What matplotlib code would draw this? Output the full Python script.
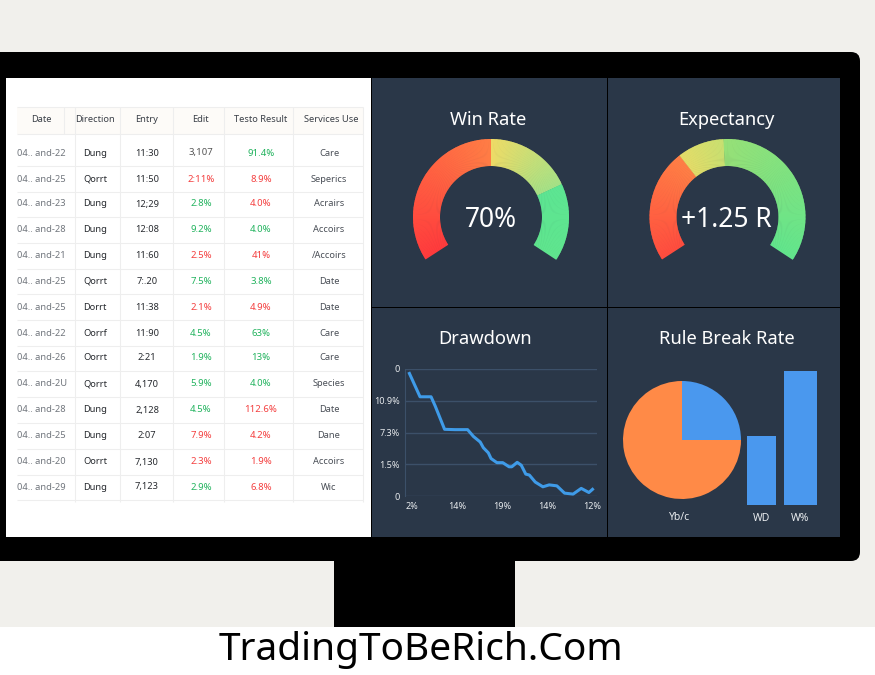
import matplotlib
matplotlib.use("Agg")
import matplotlib.pyplot as plt
from matplotlib.patches import Rectangle, FancyBboxPatch, Wedge
from matplotlib.colors import to_rgb

W, H = 875, 675
plt.rcParams['font.family'] = ['Noto Sans', 'DejaVu Sans']

# ---------- data ----------
headers = ["Date", "Direction", "Entry", "Edit", "Testo Result", "Services Use"]
dates = ["04.. and-22", "04.. and-25", "04.. and-23", "04.. and-28", "04.. and-21", "04.. and-25", "04.. and-25",
         "04.. and-22", "04.. and-26", "04.. and-2U", "04.. and-28", "04.. and-25", "04.. and-20", "04.. and-29"]
directions = ["Dung", "Qorrt", "Dung", "Dung", "Dung", "Qorrt", "Dorrt",
              "Oorrf", "Oorrt", "Qorrt", "Dung", "Dung", "Oorrt", "Dung"]
entries = ["11:30", "11:50", "12;29", "12:08", "11:60", "7:.20", "11:38",
           "11:90", "2:21", "4,170", "2,128", "2:07", "7,130", "7,123"]
edits = ["3,107", "2:11%", "2.8%", "9.2%", "2.5%", "7.5%", "2.1%",
         "4.5%", "1.9%", "5.9%", "4.5%", "7.9%", "2.3%", "2.9%"]
edit_tone = list("nrggrgrgggg" "rrg")
results = ["91.4%", "8.9%", "4.0%", "4.0%", "41%", "3.8%", "4.9%",
           "63%", "13%", "4.0%", "112.6%", "4.2%", "1.9%", "6.8%"]
result_tone = list("grrgrgrgggrrrr")
services = ["Care", "Seperics", "Acrairs", "Accoirs", "/Accoirs", "Date", "Date",
            "Care", "Care", "Species", "Date", "Dane", "Accoirs", "Wic"]

win_label = "70%"
win_angles = [213, 90, 25, -33]
exp_label = "+1.25 R"
exp_angles = [213, 128, 93, -33]

dd_x = [-0.05, .185, .43, .52, .73, .96, 1.24, 1.37, 1.52, 1.59, 1.70, 1.76, 1.89, 2.02, 2.16, 2.22, 2.34, 2.43,
        2.53, 2.61, 2.74, 2.91, 3.05, 3.22, 3.39, 3.58, 3.76, 3.93, 4.01]
dd_y = [3.86, 3.125, 3.125, 2.84, 2.10, 2.09, 2.09, 1.875, 1.70, 1.52, 1.36, 1.18, 1.05, 1.05, .92, .92, 1.06, .97,
        .69, .66, .44, .29, .35, .32, .09, .06, .24, .11, .21]
dd_xticklabels = ["2%", "14%", "19%", "14%", "12%"]
dd_yticklabels = ["0", "1.5%", "7.3%", "10.9%", "0"]

pie_values = [25, 75]
pie_labels = ["40%", "42.9%"]
pie_caption = "Yb/c"
bar_labels = ["WD", "W%"]
bar_values = [69, 134]

# ---------- figure ----------
fig = plt.figure(figsize=(W / 100, H / 100), dpi=100, facecolor="white")
bg = fig.add_axes([0, 0, 1, 1])
bg.set_xlim(0, W)
bg.set_ylim(0, H)
bg.axis("off")
Y = lambda y: H - y


def rect(x0, y0, x1, y1, color, z=1):
    bg.add_patch(Rectangle((x0, Y(y1)), x1 - x0, y1 - y0, fc=color, ec="none", zorder=z))


def hline(x0, x1, y, c="#eeeeee", lw=0.8):
    bg.plot([x0, x1], [Y(y), Y(y)], color=c, lw=lw, zorder=3, solid_capstyle="butt")


def vline(x, y0, y1, c="#eeeeee", lw=0.8):
    bg.plot([x, x], [Y(y0), Y(y1)], color=c, lw=lw, zorder=3, solid_capstyle="butt")


def label(x, y, s, size, color, ha="center", weight="normal", z=6):
    bg.text(x, Y(y), s, fontsize=size, color=color, ha=ha, va="center", fontweight=weight, zorder=z)


rect(0, 0, W, 627, "#f1f0ec", 0)
bg.add_patch(FancyBboxPatch((-30, Y(561)), 890, 509, boxstyle="round,pad=0,rounding_size=9",
                            fc="#000000", ec="none", zorder=1))
rect(334, 561, 515, 627, "#000000", 1)
rect(6, 78, 371, 537, "#ffffff", 2)
PANEL = "#2a3748"
rect(372, 78, 607, 307, PANEL, 2)
rect(608, 78, 840, 307, PANEL, 2)
rect(372, 308, 607, 537, PANEL, 2)
rect(608, 308, 840, 537, PANEL, 2)

# ---------- table ----------
rect(17, 107, 363, 134, "#fdfbf8", 2)
col_lines = [75, 120, 173, 224, 293, 363]
row_y = [153, 179, 204, 230, 256, 281, 307, 333, 358, 384, 410, 436, 462, 487]
for x in col_lines:
    vline(x, 107, 502)
vline(64, 107, 134)
hline(17, 363, 107)
hline(17, 363, 134)
for y in row_y:
    hline(17, 363, y + 12.8)
for x, s in zip([41, 95, 147, 200, 261, 331], headers):
    label(x, 120, s, 6.7, "#3a3f47")
tone = {"r": "#f43f3f", "g": "#22b35e", "n": "#555555"}
for i, y in enumerate(row_y):
    label(17, y, dates[i], 6.7, "#70757c", ha="left")
    label(83, y, directions[i], 6.7, "#26292e", ha="left")
    label(147, y, entries[i], 6.7, "#26292e")
    label(201, y, edits[i], 6.9, tone[edit_tone[i]])
    label(261, y, results[i], 6.9, tone[result_tone[i]])
    label(329, y, services[i], 6.7, "#4a4f57")


# ---------- gauges ----------
def ramp(cx, cy, a0, a1, c0, c1, r=78, w=27):
    n = max(int(abs(a0 - a1)), 1)
    c0, c1 = to_rgb(c0), to_rgb(c1)
    for k in range(n):
        t = k / max(n - 1, 1)
        col = tuple(p + (q - p) * t for p, q in zip(c0, c1))
        hi = a0 + (a1 - a0) * k / n
        lo = a0 + (a1 - a0) * (k + 1) / n
        bg.add_patch(Wedge((cx, Y(cy)), r, lo - .3, hi + .3 if k else hi, width=w, fc=col, ec="none", zorder=4))


ramp(491, 217, win_angles[0], win_angles[1], "#ff3a3c", "#ff7d45")
ramp(491, 217, win_angles[1], win_angles[2], "#eedb66", "#a6e186")
ramp(491, 217, win_angles[2], win_angles[3], "#5de592", "#5fe58e")
ramp(727.5, 217, exp_angles[0], exp_angles[1], "#ff4c3e", "#ff7f45")
ramp(727.5, 217, exp_angles[1], exp_angles[2], "#e4dc68", "#c9df70")
ramp(727.5, 217, exp_angles[2], exp_angles[3], "#97e077", "#62e58c")
label(488.5, 120, "Win Rate", 13.2, "white")
label(726, 120, "Expectancy", 13.2, "white")
label(490.5, 220, win_label, 19, "white")
label(726, 220, exp_label, 19, "white")
label(485, 339, "Drawdown", 13.2, "white")
label(727, 339, "Rule Break Rate", 13.2, "white")

# ---------- bottom brand ----------
label(420.5, 650, "TradingToBeRich.Com", 28, "black", weight="bold")


def sub(x0, y0, x1, y1):
    a = fig.add_axes([x0 / W, 1 - y1 / H, (x1 - x0) / W, (y1 - y0) / H])
    a.patch.set_alpha(0)
    return a


# ---------- drawdown ----------
ax = sub(405, 369, 597, 496)
ax.set_xlim(-0.148, 4.11)
ax.set_ylim(0, 4)
ax.plot(dd_x, dd_y, color="#3f9be8", lw=2.2, solid_joinstyle="round", zorder=3)
ax.set_yticks(range(5), dd_yticklabels)
ax.set_xticks(range(5), dd_xticklabels)
ax.grid(axis="y", color="#3c5069", lw=1)
ax.tick_params(length=0, labelsize=6.5, labelcolor="#e8ebee", pad=4)
for sp in ax.spines.values():
    sp.set_visible(False)
ax.spines["left"].set_visible(True)
ax.spines["left"].set_color("#3c5069")
ax.set_axisbelow(True)
ax.margins(0)

# ---------- pie + bars ----------
pa = sub(623, 381, 741, 499)
pa.pie(pie_values, colors=["#4a98ee", "#ff8a47"], startangle=90, counterclock=False, radius=1,
       wedgeprops={"lw": 0})
pa.set_xlim(-1, 1)
pa.set_ylim(-1, 1)
label(710, 417, pie_labels[0], 9.5, "white")
label(654, 453, pie_labels[1], 9.5, "white")
label(680, 517, pie_caption, 7.5, "#e8ebee")

ba = sub(740, 371, 825, 505)
ba.set_xlim(740, 825)
ba.set_ylim(0, 134)
ba.bar([761.5, 800.5], bar_values, width=[29, 33], color="#4a98ee")
ba.set_xticks([762, 800], bar_labels)
ba.tick_params(length=0, labelsize=7.5, labelcolor="#e8ebee", pad=6, left=False, labelleft=False)
for sp in ba.spines.values():
    sp.set_visible(False)

fig.savefig("out.png", dpi=100, facecolor="white")
